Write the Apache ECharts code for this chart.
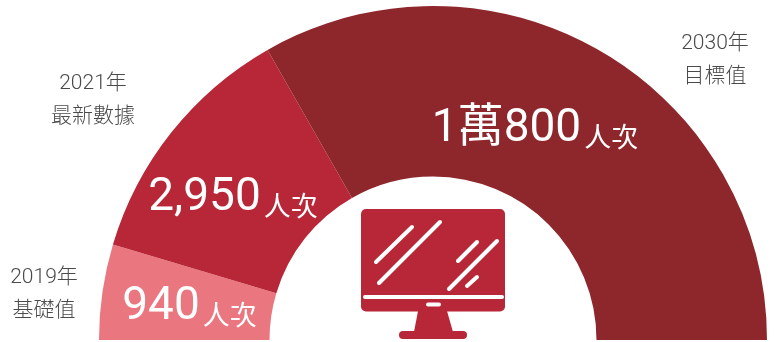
<!DOCTYPE html>
<html><head><meta charset="utf-8">
<style>html,body{margin:0;padding:0;background:#fff}#c{width:774px;height:342px}</style>
<script src="https://cdn.jsdelivr.net/npm/echarts@6/dist/echarts.min.js"></script>
</head><body><div id="c"></div>
<script>
const years = ['2019年', '2021年', '2030年'];
const stages = ['基礎值', '最新數據', '目標值'];
const people = ['940', '2,950', '1萬800'];
const arcShares = [16.6, 43.7, 119.7];
const colors = ['#EA7680', '#B72737', '#8E272C'];
const unit = '人次';

const CN = '"Noto Sans CJK TC"';
const chart = echarts.init(document.getElementById('c'), null, {renderer: 'canvas'});

const valuePos = [[189.5, 307], [233, 198], [535, 129]];
const catPos = [[44, 293], [93, 99], [715, 59]];

function valueLabel(i) {
  return {
    type: 'text', z: 20, x: valuePos[i][0], y: valuePos[i][1],
    style: {
      text: '{n|' + people[i] + '}{u|' + unit + '}',
      align: 'center', verticalAlign: 'middle',
      rich: {
        n: {fontFamily: 'Roboto, ' + CN, fontSize: 46, fontWeight: 400, fill: '#fff', padding: [0, 3, 0, 0]},
        u: {fontFamily: CN, fontSize: 27, fill: '#fff', verticalAlign: 'bottom', padding: [0, 0, 2, 0]}
      }
    }
  };
}
function catLabel(i) {
  return {
    type: 'text', z: 20, x: catPos[i][0], y: catPos[i][1],
    style: {
      text: '{y|' + years[i] + '}\n{s|' + stages[i] + '}',
      align: 'center', verticalAlign: 'middle',
      rich: {
        y: {fontFamily: 'Roboto, ' + CN, fontWeight: 300, fontSize: 21, fill: '#4a4a4a', lineHeight: 30, align: 'center'},
        s: {fontFamily: CN, fontWeight: 300, fontSize: 21, fill: '#4a4a4a', lineHeight: 30, align: 'center'}
      }
    }
  };
}
const glass = [[376,262,412,227],[379,283,440,222],[458,261,477,242],[449,289,497,241],[467,286,477,277],[365,297,502,297],[428,304.5,439,304.5]];
const monitor = [
  {type:'rect', z: 10, shape:{x:361,y:209,width:144,height:102.5,r:5}, style:{fill:'#B72737'}},
  {type:'polygon', z: 10, shape:{points:[[418,311],[447,311],[453,332],[414,332]]}, style:{fill:'#B72737'}},
  {type:'rect', z: 10, shape:{x:399,y:331,width:68,height:8,r:4}, style:{fill:'#B72737'}}
].concat(glass.map(g => ({
  type:'line', z: 11, shape:{x1:g[0],y1:g[1],x2:g[2],y2:g[3]},
  style:{stroke:'#fff', lineWidth:4, lineCap:'round'}
})));

chart.setOption({
  animation: false,
  series: [{
    type: 'pie',
    center: [433, 340],
    radius: [163.5, 334],
    startAngle: 180,
    endAngle: 0,
    clockwise: true,
    silent: true,
    label: {show: false},
    labelLine: {show: false},
    data: arcShares.map((v, i) => ({value: v, name: years[i], itemStyle: {color: colors[i]}}))
  }],
  graphic: {elements: [
    ...monitor,
    ...[0,1,2].map(valueLabel),
    ...[0,1,2].map(catLabel)
  ]}
});
</script></body></html>
